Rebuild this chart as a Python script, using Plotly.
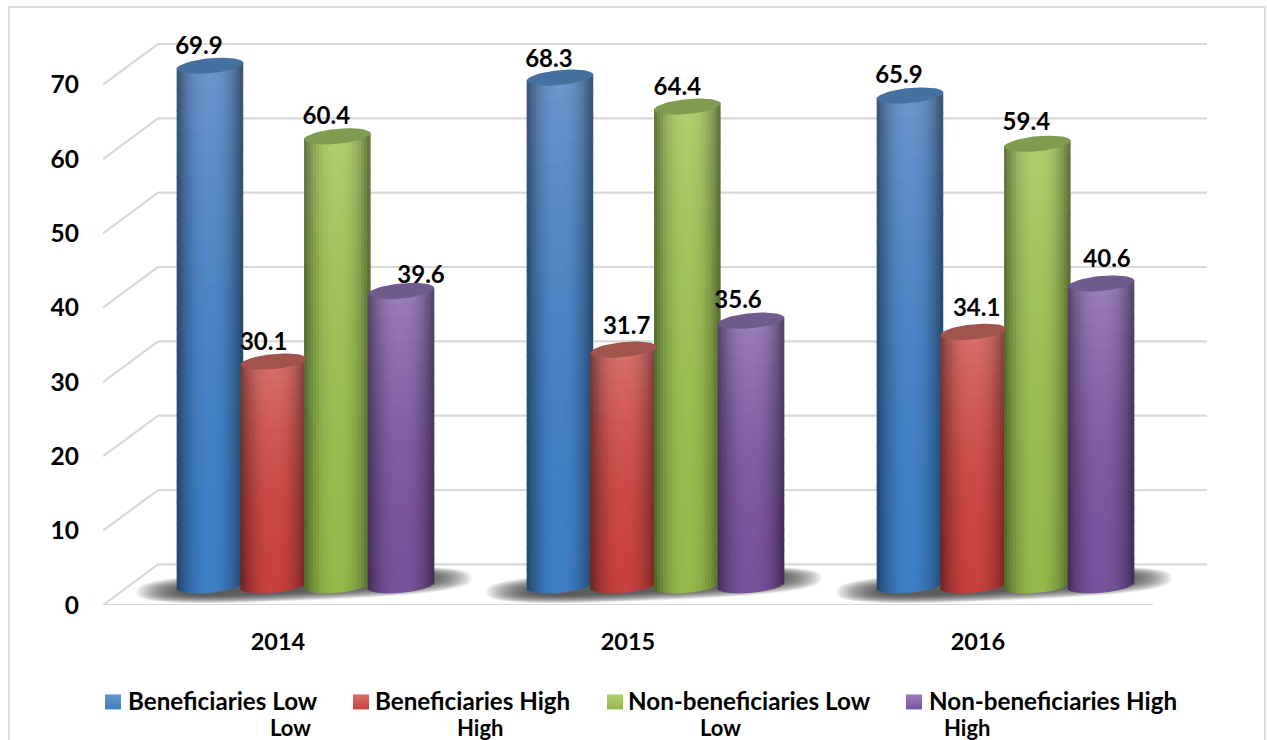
import numpy as np
import plotly.graph_objects as go

years = ["2014", "2015", "2016"]
series_names = ["Beneficiaries Low Low", "Beneficiaries High High",
                "Non-beneficiaries Low Low", "Non-beneficiaries High High"]
ben_low = [69.9, 68.3, 65.9]
ben_high = [30.1, 31.7, 34.1]
non_low = [60.4, 64.4, 59.4]
non_high = [39.6, 35.6, 40.6]
series_values = [ben_low, ben_high, non_low, non_high]
y_ticks = [0, 10, 20, 30, 40, 50, 60, 70]

# styles
TOP = [(108, 151, 206), (217, 112, 108), (176, 208, 112), (155, 127, 187)]
BOT = [(62, 126, 195), (200, 66, 63), (148, 186, 76), (122, 84, 159)]
CAP = ["#46709F", "#A1534E", "#7F9C4F", "#6E5A8C"]
LBL_DX = [[-11, -11, -11], [-10, 3, 3], [-11, -10, -11], [20, -13, 6]]
LBL_DY = [[-18, -17, -18], [-18, -22, -22], [-18, -18, -20], [-14, -19, -23]]

FONT = "Lato"
FS = 24.5
PX_U = 7.44      # px per y unit
PX_C = 350.0     # px per category
X0PX, Y0PX = 278.0, 605.5
DEPTH = 2.65     # bar floor offset in y units
BACK_Y = 5.47
BACK_X = 55 / PX_C
HALF = 33.0
SPACING = 63.7
GROUP_SHIFT = 27.5
TILT = 3.0
ELL = 7.5


def xd(p):
    return (p - X0PX) / PX_C


def yd(p):
    return (Y0PX - p) / PX_U


def xp_paper(p):
    return (p - 103) / 1104.0


def yp_paper(p):
    return (Y0PX - p) / (Y0PX - 43)


fig = go.Figure()
N_ST = 22
N_SEG = 24
ST_W = 2 * HALF / N_ST           # stripe width, px
for s, vals in enumerate(series_values):
    xs, bases, heights, colors = [], [], [], []
    for c, v in enumerate(vals):
        cx = GROUP_SHIFT + (s - 1.5) * SPACING
        for i in range(N_ST):
            t = (i + 0.5) / N_ST * 2 - 1
            top = v + DEPTH + TILT * t / PX_U
            bot = DEPTH + TILT * t / PX_U - ELL * np.sqrt(1 - t * t) / PX_U
            fac = 1 - 0.47 * abs(t) ** 2.3
            for j in range(N_SEG):
                a = bot + (top - bot) * j / N_SEG
                b = bot + (top - bot) * (j + 1) / N_SEG
                f = (j + 0.5) / N_SEG
                col = [(BOT[s][k] + (TOP[s][k] - BOT[s][k]) * f ** 2) * fac for k in range(3)]
                xs.append(c + (cx + t * HALF) / PX_C)
                bases.append(a)
                heights.append(b - a + 1.0 / PX_U)
                colors.append("rgb(%d,%d,%d)" % tuple(col))
    fig.add_trace(go.Bar(x=xs, y=heights, base=bases, width=(ST_W + 0.6) / PX_C,
                         marker=dict(color=colors, line=dict(width=0)),
                         hoverinfo="skip", showlegend=False))

# cylinder caps
theta = np.linspace(0, 2 * np.pi, 61)
for s, vals in enumerate(series_values):
    for c, v in enumerate(vals):
        cx = GROUP_SHIFT + (s - 1.5) * SPACING
        ct, st = np.cos(theta), np.sin(theta)
        fig.add_trace(go.Scatter(
            x=c + (cx + HALF * ct) / PX_C,
            y=v + DEPTH + (TILT * ct + ELL * st) / PX_U,
            mode="lines", fill="toself", fillcolor=CAP[s], line=dict(width=0),
            hoverinfo="skip", showlegend=False))

# value labels
lx, ly, lt = [], [], []
for s, vals in enumerate(series_values):
    for c, v in enumerate(vals):
        cx = GROUP_SHIFT + (s - 1.5) * SPACING
        lx.append(c + (cx + LBL_DX[s][c]) / PX_C)
        ly.append(v + DEPTH - LBL_DY[s][c] / PX_U)
        lt.append("%.1f" % v)
fig.add_trace(go.Scatter(x=lx, y=ly, text=lt, mode="text", textposition="middle center",
                         cliponaxis=False,
                         textfont=dict(family=FONT, size=24, color="black", weight=700),
                         hoverinfo="skip", showlegend=False))

shapes = []
GRID = dict(color="#D9D9D9", width=2.2)
XL, XR, XF = xd(103), xd(1207), xd(1153)
# outer frame
shapes.append(dict(type="rect", xref="paper", yref="paper", x0=xp_paper(9), x1=xp_paper(1265),
                   y0=yp_paper(760), y1=yp_paper(7), line=dict(color="#DCDCDC", width=2),
                   layer="below"))
for v in y_ticks:
    shapes.append(dict(type="line", xref="x", yref="y", x0=XL + BACK_X, x1=XR,
                       y0=v + BACK_Y, y1=v + BACK_Y, line=GRID, layer="below"))
    shapes.append(dict(type="line", xref="x", yref="y", x0=XL, x1=XL + BACK_X,
                       y0=v, y1=v + BACK_Y, line=GRID, layer="below"))
shapes.append(dict(type="line", xref="x", yref="y", x0=XL, x1=XF, y0=0, y1=0,
                   line=GRID, layer="below"))

# floor shadows (nested soft blobs)
th = np.linspace(0, 2 * np.pi, 73)
N_SH = 24
for c in range(len(years)):
    for k in range(N_SH):
        q_ = k / N_SH
        a, b = 168 * (1 - q_ * 0.28), 15.5 * (1 - q_ * 0.6)
        ct, st = np.cos(th), np.sin(th)
        ex = np.sign(ct) * np.abs(ct) ** 0.7
        ey = np.sign(st) * np.abs(st) ** 0.7
        px = 304 + a * ex
        py = 585.5 + b * ey - 7 * ex
        path = "M" + " L".join("%.4f,%.4f" % (c + xd(p), yd(q)) for p, q in zip(px, py)) + " Z"
        shapes.append(dict(type="path", xref="x", yref="y", path=path,
                           fillcolor="#303030", opacity=0.06, line=dict(width=0), layer="below"))

# legend
LEG_SQ = [105, 353, 607, 906]
LEG_TX = [127, 374, 627, 928]
LEG_L1 = ["Beneficiaries Low", "Beneficiaries High", "Non-beneficiaries Low", "Non-beneficiaries High"]
LEG_L2 = ["Low", "High", "Low", "High"]
LEG_X2 = [269, 456, 699, 943]
annotations = []
for s in range(4):
    for j in range(6):
        f = (j + 0.5) / 6
        col = [BOT[s][k] + (TOP[s][k] - BOT[s][k]) * (1 - f) for k in range(3)]
        y_hi = 695 + 15 * j / 6
        y_lo = min(695 + 15 * (j + 1) / 6 + 1, 710)
        shapes.append(dict(type="rect", xref="paper", yref="paper",
                           x0=xp_paper(LEG_SQ[s]), x1=xp_paper(LEG_SQ[s] + 16),
                           y0=yp_paper(y_lo), y1=yp_paper(y_hi),
                           fillcolor="rgb(%d,%d,%d)" % tuple(col), line=dict(width=0), layer="above"))
    annotations.append(dict(xref="paper", yref="paper", x=xp_paper(LEG_TX[s]), y=yp_paper(701),
                            text=LEG_L1[s], showarrow=False, xanchor="left", yanchor="middle",
                            borderpad=0, font=dict(family=FONT, size=24.2, color="black", weight=700)))
    annotations.append(dict(xref="paper", yref="paper", x=xp_paper(LEG_X2[s]), y=yp_paper(728),
                            text=LEG_L2[s], showarrow=False, xanchor="left", yanchor="middle",
                            borderpad=0, font=dict(family=FONT, size=22, color="black", weight=700)))

fig.update_layout(
    width=1267, height=740, autosize=False,
    margin=dict(l=103, r=60, t=43, b=134.5, pad=0),
    paper_bgcolor="white", plot_bgcolor="rgba(0,0,0,0)",
    barmode="overlay", showlegend=False, shapes=shapes, annotations=annotations,
    xaxis=dict(range=[XL, XR], tickmode="array", tickvals=[0, 1, 2], ticktext=years,
               showgrid=False, zeroline=False, showline=False, ticks="", ticklabelstandoff=20,
               tickfont=dict(family=FONT, size=23.5, color="black", weight=700)),
    yaxis=dict(range=[0, (Y0PX - 43) / PX_U], tickmode="array", tickvals=y_ticks,
               showgrid=False, zeroline=False, showline=False, ticks="", ticklabelstandoff=23,
               tickfont=dict(family=FONT, size=FS, color="black", weight=700)),
)
fig.write_html("out.html", config={"displayModeBar": False},
               post_script="document.body.style.margin='0';")
